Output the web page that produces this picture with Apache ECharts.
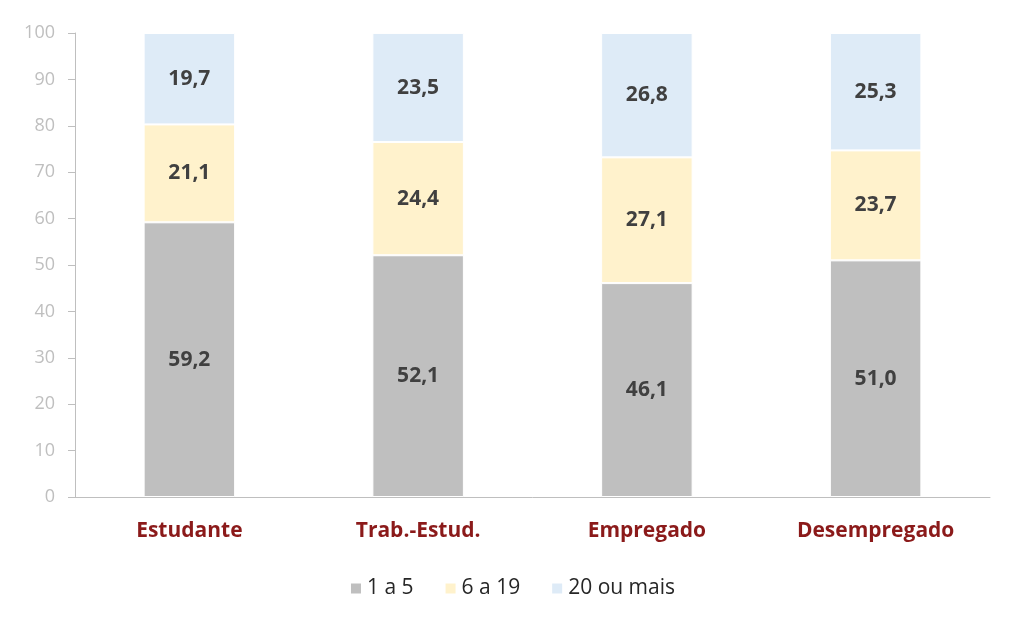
<!DOCTYPE html>
<html>
<head>
<meta charset="utf-8">
<script src="https://cdn.jsdelivr.net/npm/echarts@6/dist/echarts.min.js"></script>
<style>
  html, body { margin: 0; padding: 0; background: #fff; }
  #chart { width: 1024px; height: 631px; }
</style>
</head>
<body>
<div id="chart"></div>
<script>
// dados
const categorias = ['Estudante', 'Trab.-Estud.', 'Empregado', 'Desempregado']
const serieNomes = ['1 a 5', '6 a 19', '20 ou mais']
const valores1a5 = [59.2, 52.1, 46.1, 51.0]
const valores6a19 = [21.1, 24.4, 27.1, 23.7]
const valores20mais = [19.7, 23.5, 26.8, 25.3]
const cores = ['#BFBFBF', '#FFF2CC', '#DEEBF7']

const fonte = '"Open Sans", Lato, sans-serif'

function fmt(v) {
  return v.toFixed(1).replace('.', ',')
}

const chart = echarts.init(document.getElementById('chart'))

const series = [valores1a5, valores6a19, valores20mais].map((data, idx) => ({
  name: serieNomes[idx],
  type: 'bar',
  stack: 'total',
  data,
  barWidth: '40%',
  itemStyle: { color: cores[idx], borderColor: '#fff', borderWidth: 1 },
  label: {
    show: true,
    position: 'inside',
    formatter: (p) => fmt(p.value),
    color: '#404040',
    fontSize: 21,
    fontWeight: 'bold',
    fontFamily: fonte
  }
}))

chart.setOption({
  animation: false,
  grid: { left: 75, right: 34, top: 33, bottom: 134 },
  legend: {
    data: serieNomes,
    bottom: 27,
    left: 'center',
    icon: 'rect',
    itemWidth: 12,
    itemHeight: 12,
    itemGap: 30,
    textStyle: { color: '#262626', fontSize: 21, fontFamily: fonte }
  },
  xAxis: {
    type: 'category',
    data: categorias,
    axisLine: { lineStyle: { color: '#BFBFBF' } },
    axisTick: { show: false },
    axisLabel: { color: '#8B1A1A', fontSize: 21, fontWeight: 'bold', fontFamily: fonte, margin: 24 }
  },
  yAxis: {
    type: 'value',
    min: 0,
    max: 100,
    interval: 10,
    axisLine: { show: true, lineStyle: { color: '#BFBFBF' } },
    axisTick: { show: true, length: 7, lineStyle: { color: '#BFBFBF' } },
    axisLabel: { color: '#BFBFBF', fontSize: 18, fontFamily: fonte, margin: 20 },
    splitLine: { show: false }
  },
  series
})
</script>
</body>
</html>
